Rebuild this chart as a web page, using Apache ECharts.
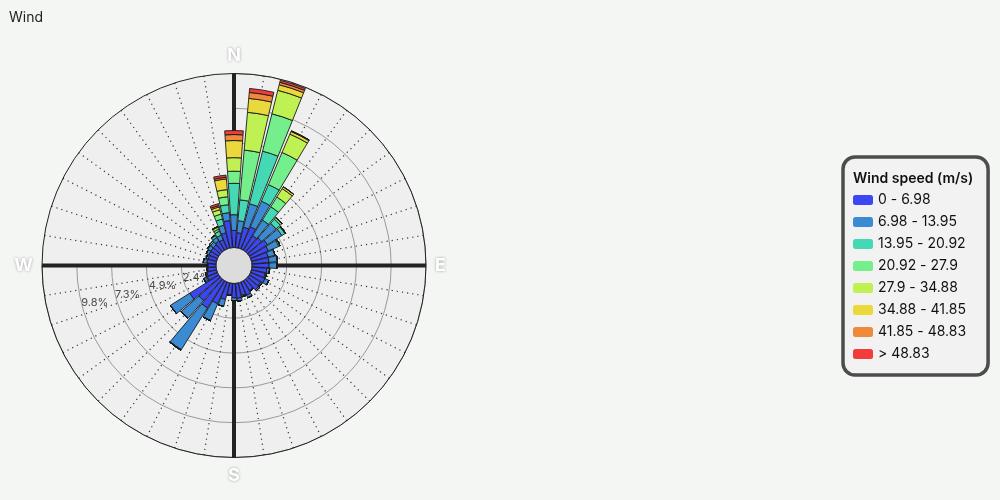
<!DOCTYPE html>
<html>
<head>
<meta charset="utf-8">
<script src="https://cdn.jsdelivr.net/npm/echarts@6/dist/echarts.min.js"></script>
<style>
html,body{margin:0;padding:0;background:#f4f6f4;}
#chart{width:1000px;height:500px;}
</style>
</head>
<body>
<div id="chart"></div>
<script>
// Directions (degrees, clockwise from N), 40 sectors of 9 degrees
const directions = ['0','9','18','27','36','45','54','63','72','81','90','99','108','117','126','135','144','153','162','171','180','189','198','207','216','225','234','243','252','261','270','279','288','297','306','315','324','333','342','351'];
const cardinals = ['N','E','S','W'];
const speedBins = ['0 - 6.98','6.98 - 13.95','13.95 - 20.92','20.92 - 27.9','27.9 - 34.88','34.88 - 41.85','41.85 - 48.83','> 48.83'];
const binColors = ['#3b47f2','#3b8bd3','#44d9b4','#74ef8c','#bff152','#ebd93b','#ef8a3a','#f23c3c'];
const radiusTicks = [0, 2.44, 4.88, 7.32, 9.76, 12.2];
const radiusTickLabels = ['2.4%', '4.9%', '7.3%', '9.8%'];

// Frequency (%) per direction for each speed bin
const bin1 = [1.2,1.05,1.5,1.68,1.2,1.3,1.5,1.35,1.2,1.2,1.2,1.05,1.0,1.1,0.95,1.0,0.8,1.0,0.9,1.05,1.0,0.8,1.2,1.65,2.25,2.0,2.4,0.8,0.7,0.6,0.55,0.65,0.6,0.65,0.65,0.65,0.75,0.7,1.1,1.9];
const bin2 = [1.1,0.84,1.7,1.96,1.3,1.35,1.2,0.8,0.5,0.6,0.55,0.2,0.1,0.3,0.1,0.1,0.05,0.2,0.1,0.2,0.2,0.05,0.5,1.3,3.45,1.65,1.6,0.25,0.1,0.05,0.05,0.25,0.15,0.2,0.25,0.25,0.3,0.35,0.55,0.56];
const bin3 = [2.2,1.47,3.8,1.26,1.1,0.4,0.25,0.1,0,0,0,0,0,0,0,0,0,0,0,0,0,0,0,0,0.05,0,0,0,0,0,0,0,0,0,0.05,0.1,0.15,0.3,0.45,0.56];
const bin4 = [0.85,3.5,2.7,2.45,0.8,0.15,0.05,0,0,0,0,0,0,0,0,0,0,0,0,0,0,0,0,0,0,0,0,0,0,0,0,0,0,0,0,0,0.05,0.15,0.35,0.56];
const bin5 = [0.95,2.66,1.7,1.4,0.7,0,0,0,0,0,0,0,0,0,0,0,0,0,0,0,0,0,0,0,0,0,0,0,0,0,0,0,0,0,0,0,0,0.15,0.32,0.5];
const bin6 = [1.2,0.98,0.4,0.2,0.15,0,0,0,0,0,0,0,0,0,0,0,0,0,0,0,0,0,0,0,0,0,0,0,0,0,0,0,0,0,0,0,0,0.05,0.2,0.75];
const bin7 = [0.42,0.42,0.18,0.05,0,0,0,0,0,0,0,0,0,0,0,0,0,0,0,0,0,0,0,0,0,0,0,0,0,0,0,0,0,0,0,0,0,0,0.1,0.12];
const bin8 = [0.28,0.28,0.14,0,0,0,0,0,0,0,0,0,0,0,0,0,0,0,0,0,0,0,0,0,0,0,0,0,0,0,0,0,0,0,0,0,0,0,0.14,0.15];
const binValues = [bin1,bin2,bin3,bin4,bin5,bin6,bin7,bin8];

const chart = echarts.init(document.getElementById('chart'));
const CENTER = [234, 265.5];
const FONT = 'Inter, "Noto Sans", sans-serif';
const RMAX = radiusTicks[radiusTicks.length - 1];
const RSTEP = radiusTicks[1];

const series = speedBins.map((name, i) => ({
  name: name,
  type: 'bar',
  coordinateSystem: 'polar',
  polarIndex: 0,
  stack: 'wind',
  barCategoryGap: '12%',
  data: binValues[i],
  itemStyle: { color: binColors[i], borderColor: '#1a1a1a', borderWidth: 0.9 },
  emphasis: { disabled: true }
}));

// radius tick labels, placed by polar #2 (its axis runs along the label direction)
series.push({
  type: 'scatter',
  coordinateSystem: 'polar',
  polarIndex: 2,
  z: 10,
  symbolSize: 0,
  silent: true,
  data: radiusTickLabels.map((t, i) => ({ value: [radiusTicks[i + 1], 0], name: t })),
  label: {
    show: true, position: 'right', distance: 0, formatter: '{b}',
    fontSize: 11, color: '#222', fontFamily: FONT
  },
  labelLayout: { hideOverlap: false }
});

chart.setOption({
  animation: false,
  backgroundColor: '#f4f6f4',
  textStyle: { fontFamily: FONT },
  title: [
    { text: 'Wind', left: 4, top: 6, textStyle: { fontSize: 14, fontWeight: 'normal', color: '#222', fontFamily: FONT } },
    { text: 'Wind speed (m/s)', left: 848, top: 167, z: 10, textStyle: { fontSize: 14, fontWeight: 600, color: '#111', fontFamily: FONT } }
  ],
  legend: {
    orient: 'vertical',
    left: 843, top: 157,
    padding: [36, 22, 14, 10],
    backgroundColor: '#f2f2f2',
    borderColor: '#4c4c4c',
    borderWidth: 3.5,
    borderRadius: 12,
    itemWidth: 20, itemHeight: 10,
    itemGap: 8,
    icon: 'roundRect',
    itemStyle: { borderWidth: 0 },
    textStyle: { fontSize: 14, color: '#111', fontFamily: FONT },
    selectedMode: false,
    data: speedBins
  },
  polar: [
    { center: CENTER, radius: [18, 192] },
    { center: CENTER, radius: [18, 192] },
    { center: CENTER, radius: [18, 192] },
    { center: CENTER, radius: [0, 18] }
  ],
  angleAxis: [
    {
      polarIndex: 0, type: 'category', data: directions, boundaryGap: false,
      startAngle: 90, clockwise: true,
      axisLine: { show: true, lineStyle: { color: '#222', width: 1 } },
      axisTick: { show: false }, axisLabel: { show: false, interval: 0 },
      splitLine: { show: true, interval: 0, lineStyle: { color: '#333', width: 1.2, type: [1.2, 4] } }
    },
    {
      polarIndex: 1, type: 'category', data: cardinals, boundaryGap: false,
      startAngle: 90, clockwise: true,
      axisLine: { show: false }, axisTick: { show: false },
      axisLabel: { show: true, interval: 0, color: '#ffffff', fontSize: 18, fontWeight: 'bold', margin: 9, fontFamily: FONT,
                   textShadowColor: 'rgba(0,0,0,0.35)', textShadowBlur: 3 },
      splitLine: { show: true, interval: 0, lineStyle: { color: '#222', width: 4 } }
    },
    {
      polarIndex: 2, type: 'value', min: 0, max: 360, startAngle: 193.6,
      axisLine: { show: false }, axisTick: { show: false }, axisLabel: { show: false }, splitLine: { show: false }
    },
    {
      polarIndex: 3, type: 'value', min: 0, max: 360,
      axisLine: { show: true, lineStyle: { color: '#9a9a9a', width: 1 } },
      axisTick: { show: false }, axisLabel: { show: false }, splitLine: { show: false }
    }
  ],
  radiusAxis: [
    {
      polarIndex: 0, type: 'value', min: 0, max: RMAX, interval: RSTEP,
      axisLine: { show: false }, axisTick: { show: false }, axisLabel: { show: false },
      splitLine: { show: false },
      splitArea: { show: true, areaStyle: { color: ['#efefef'] } }
    },
    {
      polarIndex: 1, type: 'value', min: 0, max: RMAX, interval: RSTEP,
      axisLine: { show: false }, axisTick: { show: false }, axisLabel: { show: false },
      splitLine: { show: true, lineStyle: { color: '#9a9a9a', width: 1 } }
    },
    {
      polarIndex: 2, type: 'value', min: 0, max: RMAX, interval: RSTEP,
      axisLine: { show: false }, axisTick: { show: false }, splitLine: { show: false }, axisLabel: { show: false }
    },
    {
      polarIndex: 3, type: 'value', min: 0, max: 1, interval: 1,
      axisLine: { show: false }, axisTick: { show: false }, axisLabel: { show: false }, splitLine: { show: false },
      splitArea: { show: true, areaStyle: { color: ['#dcdcdc'] } }
    }
  ],
  series: series
});
</script>
</body>
</html>
